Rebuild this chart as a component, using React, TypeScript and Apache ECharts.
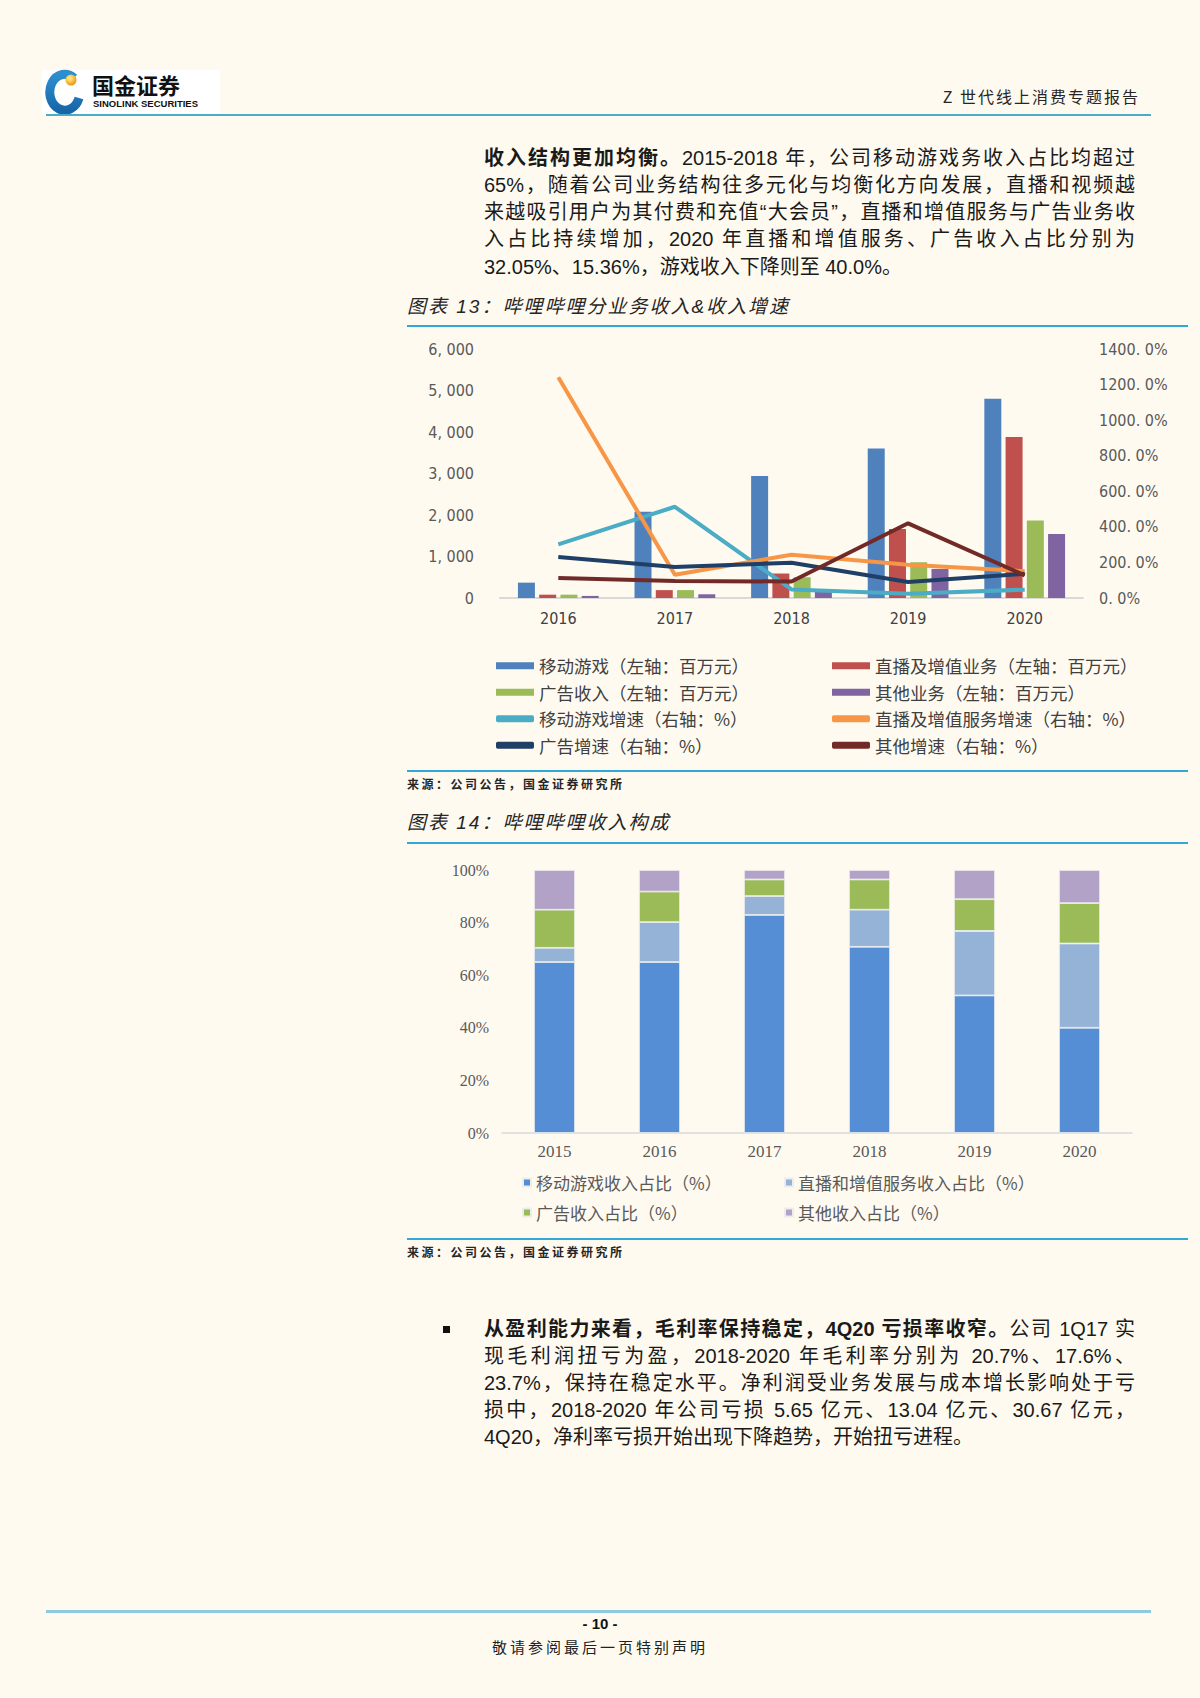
import React, { useEffect, useRef } from "react";
import * as echarts from "echarts";

// ---------- Data: 图表13 ----------
const years13 = ["2016", "2017", "2018", "2019", "2020"];
const mobileGame = [370, 2080, 2940, 3600, 4800];
const liveVas = [80, 190, 590, 1660, 3880];
const ads = [80, 190, 500, 860, 1870];
const others = [50, 90, 150, 700, 1540];
const gameGrowth = [302, 513, 48, 24, 47];
const liveGrowth = [1241, 131, 243, 187, 151];
const adGrowth = [231, 174, 198, 90, 136];
const otherGrowth = [112, 95, 93, 420, 127];
const leftAxisLabels = ["0", "1, 000", "2, 000", "3, 000", "4, 000", "5, 000", "6, 000"];
const rightAxisLabels = ["0. 0%", "200. 0%", "400. 0%", "600. 0%", "800. 0%", "1000. 0%", "1200. 0%", "1400. 0%"];

// ---------- Data: 图表14 ----------
const years14 = ["2015", "2016", "2017", "2018", "2019", "2020"];
const gameShare = [65.0, 65.0, 82.9, 70.8, 52.3, 40.0];
const liveShare = [5.4, 15.2, 7.2, 14.1, 24.5, 32.05];
const adShare = [14.5, 11.6, 6.3, 11.5, 12.1, 15.36];
const otherShare = [15.1, 8.2, 3.6, 3.6, 11.1, 12.59];
const shareAxisLabels = ["0%", "20%", "40%", "60%", "80%", "100%"];

const N1 = ["移动游戏（左轴：百万元）", "直播及增值业务（左轴：百万元）", "广告收入（左轴：百万元）", "其他业务（左轴：百万元）",
  "移动游戏增速（右轴：%）", "直播及增值服务增速（右轴：%）", "广告增速（右轴：%）", "其他增速（右轴：%）"];
const N2 = ["移动游戏收入占比（%）", "直播和增值服务收入占比（%）", "广告收入占比（%）", "其他收入占比（%）"];

const CJK = "'Noto Sans CJK SC', sans-serif";
const NARROW = "'Liberation Sans Narrow', 'DejaVu Sans Condensed', 'Liberation Sans', sans-serif";
const SERIF = "'Liberation Serif', 'DejaVu Serif', serif";

function buildOption1() {
  const legendText = { color: "#404040", fontSize: 17.5, fontFamily: CJK };
  const bar = (name: string, data: number[], color: string) => ({
    name, type: "bar", data, barWidth: 17, barGap: "25%", itemStyle: { color },
  });
  const line = (name: string, data: number[], color: string) => ({
    name, type: "line", yAxisIndex: 1, data, symbol: "none", lineStyle: { color, width: 4 }, itemStyle: { color },
  });
  return {
    animation: false,
    grid: { left: 100, right: 117, top: 19, height: 249 },
    legend: [
      {
        orient: "vertical", left: 96, top: 327, padding: 0, itemWidth: 38, itemHeight: 7, itemGap: 9, textStyle: legendText,
        data: [
          { name: N1[0], icon: "rect" }, { name: N1[2], icon: "rect" },
          { name: N1[4], icon: "roundRect" }, { name: N1[6], icon: "roundRect" },
        ],
      },
      {
        orient: "vertical", left: 432, top: 327, padding: 0, itemWidth: 38, itemHeight: 7, itemGap: 9, textStyle: legendText,
        data: [
          { name: N1[1], icon: "rect" }, { name: N1[3], icon: "rect" },
          { name: N1[5], icon: "roundRect" }, { name: N1[7], icon: "roundRect" },
        ],
      },
    ],
    xAxis: {
      type: "category", data: years13,
      axisLine: { lineStyle: { color: "#D9D9D9", width: 2 } }, axisTick: { show: false },
      axisLabel: { color: "#404040", fontSize: 16, margin: 12, fontFamily: NARROW },
    },
    yAxis: [
      {
        type: "value", min: 0, max: 6000, interval: 1000,
        axisLine: { show: false }, axisTick: { show: false }, splitLine: { show: false },
        axisLabel: { color: "#595959", fontSize: 16, margin: 26, fontFamily: NARROW, formatter: (v: number) => leftAxisLabels[Math.round(v / 1000)] },
      },
      {
        type: "value", min: 0, max: 1400, interval: 200, position: "right",
        axisLine: { show: false }, axisTick: { show: false }, splitLine: { show: false },
        axisLabel: { color: "#595959", fontSize: 16, margin: 16, fontFamily: NARROW, formatter: (v: number) => rightAxisLabels[Math.round(v / 200)] },
      },
    ],
    series: [
      bar(N1[0], mobileGame, "#4F81BD"),
      bar(N1[1], liveVas, "#C0504D"),
      bar(N1[2], ads, "#9BBB59"),
      bar(N1[3], others, "#8064A2"),
      line(N1[4], gameGrowth, "#4BACC6"),
      line(N1[5], liveGrowth, "#F79646"),
      line(N1[6], adGrowth, "#1F3F66"),
      line(N1[7], otherGrowth, "#722A28"),
    ],
  };
}

function buildOption2() {
  const legendText = { color: "#595959", fontSize: 17, fontFamily: CJK };
  const colors = ["#558ED5", "#95B3D7", "#9BBB59", "#B3A2C7"];
  const datas = [gameShare, liveShare, adShare, otherShare];
  return {
    animation: false,
    grid: { left: 102, right: 68, top: 25, height: 263 },
    legend: [
      { orient: "vertical", left: 122, top: 329, padding: 0, itemWidth: 8, itemHeight: 8, itemGap: 13, icon: "rect", textStyle: legendText, data: [N2[0], N2[2]] },
      { orient: "vertical", left: 384, top: 329, padding: 0, itemWidth: 8, itemHeight: 8, itemGap: 13, icon: "rect", textStyle: legendText, data: [N2[1], N2[3]] },
    ],
    xAxis: {
      type: "category", data: years14,
      axisLine: { lineStyle: { color: "#D9D9D9", width: 1.5 } }, axisTick: { show: false },
      axisLabel: { color: "#595959", fontSize: 17, margin: 10, fontFamily: SERIF },
    },
    yAxis: {
      type: "value", min: 0, max: 100, interval: 20,
      axisLine: { show: false }, axisTick: { show: false }, splitLine: { show: false },
      axisLabel: { color: "#595959", fontSize: 16, margin: 13, fontFamily: SERIF, formatter: (v: number) => shareAxisLabels[Math.round(v / 20)] },
    },
    series: N2.map((name, i) => ({
      name, type: "bar", stack: "total", data: datas[i], barWidth: 41,
      itemStyle: { color: colors[i], borderColor: "#EDEDED", borderWidth: 0.8 },
    })),
  };
}

function Chart({ build, style }: { build: () => any; style: React.CSSProperties }) {
  const ref = useRef<HTMLDivElement>(null);
  useEffect(() => {
    const chart = echarts.init(ref.current as HTMLDivElement, null, { renderer: "svg" });
    chart.setOption(build());
    return () => chart.dispose();
  }, []);
  return <div ref={ref} style={style} />;
}

const BODY_FONT = "'Liberation Sans', 'Noto Sans CJK SC', sans-serif";

function JLine({ top, children, last }: { top: number; children: React.ReactNode; last?: boolean }) {
  return (
    <div
      style={{
        position: "absolute", left: 484, top: top - 14, width: 651, height: 28, lineHeight: "28px",
        fontSize: 20, color: "#1a1a1a", fontFamily: BODY_FONT,
        textAlign: last ? "left" : "justify", textAlignLast: last ? "left" : "justify",
      } as React.CSSProperties}
    >
      {children}
    </div>
  );
}

function Abs({ x, y, size, children, style }: { x: number; y: number; size: number; children: React.ReactNode; style?: React.CSSProperties }) {
  return (
    <div style={{ position: "absolute", left: x, top: y - size * 0.75, lineHeight: `${size * 1.5}px`, fontSize: size, whiteSpace: "nowrap", ...style }}>
      {children}
    </div>
  );
}

function HLine({ x1, x2, y, w, color }: { x1: number; x2: number; y: number; w: number; color: string }) {
  return <div style={{ position: "absolute", left: x1, top: y - w / 2, width: x2 - x1, height: w, background: color }} />;
}

export default function App() {
  useEffect(() => {
    document.body.style.margin = "0";
  }, []);
  const titleStyle: React.CSSProperties = { fontFamily: "'Liberation Sans', 'Noto Sans CJK SC', sans-serif", fontStyle: "italic", color: "#262626", letterSpacing: 2 };
  const srcStyle: React.CSSProperties = { fontFamily: CJK, fontWeight: 700, color: "#262626", letterSpacing: 2.5 };
  return (
    <div style={{ position: "absolute", left: 0, top: 0, width: 1200, height: 1698, background: "#FFFAF0", overflow: "hidden" }}>
      {/* Header logo */}
      <svg style={{ position: "absolute", left: 42, top: 68 }} width={178} height={46} viewBox="0 0 178 46">
        <defs>
          <radialGradient id="ball" cx="40%" cy="35%" r="70%">
            <stop offset="0%" stopColor="#FFF4A0" />
            <stop offset="60%" stopColor="#F7B733" />
            <stop offset="100%" stopColor="#E08A10" />
          </radialGradient>
          <linearGradient id="ring" x1="0" y1="0" x2="0" y2="1">
            <stop offset="0%" stopColor="#2D8FD0" />
            <stop offset="100%" stopColor="#1767A8" />
          </linearGradient>
        </defs>
        <rect x={0} y={2} width={178} height={44} fill="#FFFFFF" />
        <path d="M 32 10 A 15 18 0 1 0 37 30" fill="none" stroke="url(#ring)" strokeWidth={9} />
        <circle cx={29} cy={12} r={5.5} fill="url(#ball)" />
        <text x={50} y={26} fontFamily={CJK} fontWeight={700} fontSize={22} fill="#111">国金证券</text>
        <text x={51} y={39} fontFamily="'Liberation Sans', sans-serif" fontWeight={700} fontSize={9.5} fill="#111">SINOLINK SECURITIES</text>
      </svg>
      <div style={{ position: "absolute", right: 60, top: 84, lineHeight: "24px", fontSize: 16, fontFamily: CJK, color: "#262626", letterSpacing: 2 }}>Z 世代线上消费专题报告</div>
      <HLine x1={46} x2={1151} y={115} w={2} color="#4BACC6" />

      {/* Paragraph 1 */}
      <JLine top={158}><b>收入结构更加均衡。</b>2015-2018 年，公司移动游戏务收入占比均超过</JLine>
      <JLine top={185}>65%，随着公司业务结构往多元化与均衡化方向发展，直播和视频越</JLine>
      <JLine top={212}>来越吸引用户为其付费和充值“大会员”，直播和增值服务与广告业务收</JLine>
      <JLine top={239}>入占比持续增加，2020 年直播和增值服务、广告收入占比分别为</JLine>
      <JLine top={267} last>32.05%、15.36%，游戏收入下降则至 40.0%。</JLine>

      {/* Figure 13 */}
      <Abs x={407} y={307} size={19} style={titleStyle}>图表 13：哔哩哔哩分业务收入&amp;收入增速</Abs>
      <HLine x1={407} x2={1188} y={326} w={2} color="#31A9D6" />
      <Chart build={buildOption1} style={{ position: "absolute", left: 400, top: 330, width: 800, height: 440 }} />
      <HLine x1={407} x2={1188} y={771} w={2} color="#31A9D6" />
      <Abs x={407} y={784} size={12} style={srcStyle}>来源：公司公告，国金证券研究所</Abs>

      {/* Figure 14 */}
      <Abs x={407} y={823} size={19} style={titleStyle}>图表 14：哔哩哔哩收入构成</Abs>
      <HLine x1={407} x2={1188} y={843} w={2} color="#31A9D6" />
      <Chart build={buildOption2} style={{ position: "absolute", left: 400, top: 845, width: 800, height: 392 }} />
      <HLine x1={407} x2={1188} y={1239} w={2} color="#31A9D6" />
      <Abs x={407} y={1252} size={12} style={srcStyle}>来源：公司公告，国金证券研究所</Abs>

      {/* Paragraph 2 */}
      <div style={{ position: "absolute", left: 443, top: 1326, width: 7, height: 7, background: "#111" }} />
      <JLine top={1329}><b>从盈利能力来看，毛利率保持稳定，4Q20 亏损率收窄。</b>公司 1Q17 实</JLine>
      <JLine top={1356}>现毛利润扭亏为盈，2018-2020 年毛利率分别为 20.7%、17.6%、</JLine>
      <JLine top={1383}>23.7%，保持在稳定水平。净利润受业务发展与成本增长影响处于亏</JLine>
      <JLine top={1410}>损中，2018-2020 年公司亏损 5.65 亿元、13.04 亿元、30.67 亿元，</JLine>
      <JLine top={1437} last>4Q20，净利率亏损开始出现下降趋势，开始扭亏进程。</JLine>

      {/* Footer */}
      <HLine x1={46} x2={1151} y={1611} w={3} color="#8DCBE0" />
      <div style={{ position: "absolute", left: 0, width: 1200, top: 1613, lineHeight: "22px", textAlign: "center", fontSize: 15, fontWeight: 700, fontFamily: "'Liberation Sans', sans-serif", color: "#111" }}>- 10 -</div>
      <div style={{ position: "absolute", left: 0, width: 1200, top: 1636, lineHeight: "22px", textAlign: "center", fontSize: 15, fontFamily: CJK, color: "#222", letterSpacing: 3 }}>敬请参阅最后一页特别声明</div>
    </div>
  );
}
